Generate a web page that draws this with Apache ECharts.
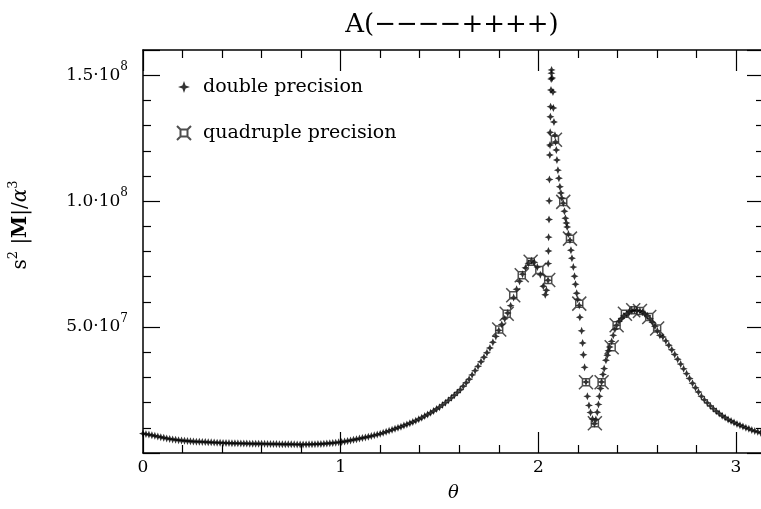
<!DOCTYPE html>
<html><head><meta charset="utf-8">
<script src="https://cdn.jsdelivr.net/npm/echarts@6/dist/echarts.min.js"></script>
<style>html,body{margin:0;padding:0;background:#fff}#c{width:761px;height:509px}</style>
</head><body><div id="c"></div>
<script>
const chartTitle = 'A(−−−−++++)';
const xAxisName = 'θ';
const xTickLabels = {0: '0', 1: '1', 2: '2', 3: '3'};
const yTickLabels = {50000000: ['5.0·10', '7'], 100000000: ['1.0·10', '8'], 150000000: ['1.5·10', '8']};
const legendNames = ['double precision', 'quadruple precision'];
const valueUnit = 1e7;
// [theta, value in units of 1e7]
const doublePrecision = [
[0.000,0.77],[0.015,0.75],[0.030,0.73],[0.045,0.705],[0.060,0.68],[0.075,0.655],[0.090,0.63],[0.105,0.605],[0.120,0.58],[0.135,0.56],[0.150,0.54],[0.165,0.525],[0.180,0.51],[0.195,0.497],[0.210,0.485],[0.225,0.475],[0.240,0.465],[0.255,0.457],[0.270,0.45],[0.285,0.445],[0.300,0.44],[0.315,0.434],[0.330,0.428],[0.345,0.422],[0.360,0.416],[0.375,0.41],[0.390,0.404],[0.405,0.399],[0.420,0.396],[0.435,0.393],[0.450,0.39],[0.465,0.387],[0.480,0.384],[0.495,0.381],[0.510,0.378],[0.525,0.375],[0.540,0.372],[0.555,0.369],[0.570,0.368],[0.585,0.366],[0.600,0.365],[0.615,0.363],[0.630,0.362],[0.645,0.36],[0.660,0.358],[0.675,0.355],[0.690,0.352],[0.705,0.35],[0.720,0.348],[0.735,0.346],[0.750,0.345],[0.765,0.343],[0.780,0.341],[0.795,0.34],[0.810,0.341],[0.825,0.342],[0.840,0.344],[0.855,0.347],[0.870,0.351],[0.885,0.355],[0.900,0.36],[0.915,0.368],[0.930,0.377],[0.945,0.387],[0.960,0.398],[0.975,0.41],[0.990,0.422],[1.005,0.437],[1.020,0.458],[1.035,0.479],[1.050,0.50],[1.065,0.524],[1.080,0.548],[1.095,0.572],[1.110,0.596],[1.125,0.62],[1.140,0.644],[1.155,0.67],[1.170,0.70],[1.185,0.73],[1.200,0.76],[1.215,0.80],[1.230,0.84],[1.245,0.88],[1.260,0.92],[1.275,0.96],[1.290,1.00],[1.305,1.045],[1.320,1.09],[1.335,1.135],[1.350,1.18],[1.365,1.23],[1.380,1.285],[1.395,1.34],[1.410,1.40],[1.425,1.465],[1.440,1.53],[1.455,1.595],[1.470,1.67],[1.485,1.745],[1.500,1.82],[1.515,1.91],[1.530,2.00],[1.545,2.09],[1.560,2.19],[1.575,2.29],[1.590,2.40],[1.605,2.51],[1.620,2.65],[1.635,2.79],[1.650,2.93],[1.665,3.10],[1.680,3.27],[1.695,3.44],[1.710,3.62],[1.725,3.80],[1.740,3.98],[1.755,4.17],[1.770,4.40],[1.785,4.63],[1.800,4.87],[1.815,5.10],[1.830,5.33],[1.845,5.56],[1.860,5.85],[1.875,6.17],[1.890,6.50],[1.905,6.82],[1.920,7.10],[1.935,7.35],[1.950,7.53],[1.965,7.63],[1.980,7.57],[1.995,7.38],[2.010,7.08],[2.025,6.62],[2.035,6.28],
[2.041,6.46],[2.049,6.86],[2.050,7.52],[2.051,8.02],[2.052,8.57],[2.054,9.27],[2.055,10.01],[2.056,10.86],[2.058,11.83],[2.059,12.23],[2.060,12.73],[2.061,13.35],[2.062,13.75],[2.064,14.41],[2.065,14.85],[2.066,15.08],[2.067,15.21],[2.070,14.89],[2.074,14.33],[2.076,13.70],[2.079,13.14],[2.084,12.62],[2.087,12.35],[2.091,12.03],[2.094,11.63],[2.099,11.23],[2.104,10.91],[2.109,10.57],[2.114,10.32],[2.119,10.12],[2.126,9.92],[2.132,9.60],[2.137,9.32],[2.142,9.13],[2.146,8.97],[2.152,8.69],[2.160,8.45],[2.165,8.05],[2.170,7.73],[2.177,7.38],[2.183,7.02],[2.188,6.70],[2.194,6.34],[2.199,6.10],[2.207,5.86],[2.210,5.39],[2.219,4.85],[2.224,4.37],[2.228,3.90],[2.234,3.40],[2.241,2.82],[2.248,2.25],[2.256,1.89],[2.264,1.61],[2.274,1.35],[2.284,1.16],[2.291,1.33],[2.298,1.62],[2.304,1.93],[2.309,2.25],[2.314,2.56],[2.320,2.82],[2.327,3.12],[2.333,3.35],[2.342,3.68],[2.349,3.88],[2.355,4.06],[2.361,4.21],[2.371,4.43],[2.379,4.67],[2.387,4.91],[2.396,5.07],[2.408,5.23],[2.421,5.34],[2.433,5.45],[2.447,5.53],[2.461,5.61],[2.473,5.65],[2.486,5.67],[2.499,5.66],[2.514,5.64],[2.527,5.59],[2.539,5.53],[2.552,5.45],[2.565,5.33],[2.577,5.19],[2.590,5.03],[2.602,4.85],[2.615,4.67],
[2.630,4.61],[2.645,4.45],[2.660,4.28],[2.675,4.10],[2.690,3.91],[2.705,3.72],[2.720,3.53],[2.735,3.34],[2.750,3.15],[2.765,2.96],[2.780,2.77],[2.795,2.59],[2.810,2.42],[2.825,2.25],[2.840,2.11],[2.855,1.99],[2.870,1.87],[2.885,1.76],[2.900,1.66],[2.915,1.57],[2.930,1.48],[2.945,1.41],[2.960,1.33],[2.975,1.27],[2.990,1.21],[3.005,1.15],[3.020,1.10],[3.035,1.05],[3.050,1.00],[3.065,0.96],[3.080,0.91],[3.095,0.87],[3.110,0.84],[3.125,0.80],[3.140,0.77]
];
const quadruplePrecision = [
[1.802,4.90],[1.840,5.53],[1.873,6.26],[1.916,7.06],[1.961,7.59],[2.005,7.27],[2.050,6.87],[2.084,12.44],[2.126,9.97],[2.160,8.51],[2.207,5.93],[2.241,2.81],[2.286,1.18],[2.320,2.81],[2.371,4.20],[2.396,5.07],[2.438,5.53],[2.480,5.67],[2.514,5.64],[2.561,5.40],[2.601,4.94]
];

const FONT = 'DejaVu Serif';
const starPath = 'path://M0,-6 L1.8,-1.8 L6,0 L1.8,1.8 L0,6 L-1.8,1.8 L-6,0 L-1.8,-1.8 Z';
const starLegendPath = 'path://M-10,-10 M10,10 M0,-6 L1.6,-1.6 L6,0 L1.6,1.6 L0,6 L-1.6,1.6 L-6,0 L-1.6,-1.6 Z';
const quadPath = 'path://M-3.5,-3.5 L3.5,-3.5 L3.5,3.5 L-3.5,3.5 Z M-3.5,-3.5 L-7,-7 M3.5,-3.5 L7,-7 M3.5,3.5 L7,7 M-3.5,3.5 L-7,7';
const quadLegendPath = 'path://M-10,-10 M10,10 M-3.5,-3.5 L3.5,-3.5 L3.5,3.5 L-3.5,3.5 Z M-3.5,-3.5 L-7,-7 M3.5,-3.5 L7,-7 M3.5,3.5 L7,7 M-3.5,3.5 L-7,7';

function xAxisDef(pos, showLabel) {
  return {
    type: 'value', position: pos, min: 0, max: Math.PI, interval: 1,
    axisLine: {show: true, onZero: false, lineStyle: {color: '#000', width: 1.5}},
    axisTick: {show: true, inside: true, length: 21, lineStyle: {color: '#000', width: 1.2}},
    minorTick: {show: true, splitNumber: 5, length: 8, lineStyle: {color: '#000', width: 1.2}},
    splitLine: {show: false},
    axisLabel: {show: showLabel, margin: 6, color: '#000', fontFamily: FONT, fontSize: 17,
      formatter: v => xTickLabels[v] !== undefined ? xTickLabels[v] : ''},
    name: showLabel ? xAxisName : '', nameLocation: 'middle', nameGap: 31,
    nameTextStyle: {fontFamily: FONT, fontSize: 18, fontStyle: 'italic', color: '#000'}
  };
}
function yAxisDef(pos, showLabel) {
  return {
    type: 'value', position: pos, min: 0, max: 1.6e8, interval: 5e7,
    axisLine: {show: true, onZero: false, lineStyle: {color: '#000', width: 1.5}},
    axisTick: {show: true, inside: true, length: 17, lineStyle: {color: '#000', width: 1.2}},
    minorTick: {show: true, splitNumber: 5, length: 8, lineStyle: {color: '#000', width: 1.2}},
    splitLine: {show: false},
    axisLabel: {show: showLabel, margin: 15, color: '#000',
      formatter: v => yTickLabels[v] ? '{a|' + yTickLabels[v][0] + '}{b|' + yTickLabels[v][1] + '}' : '',
      rich: {
        a: {fontFamily: FONT, fontSize: 17, lineHeight: 28, color: '#000'},
        b: {fontFamily: FONT, fontSize: 12, lineHeight: 12, verticalAlign: 'top', color: '#000'}
      }}
  };
}

const chart = echarts.init(document.getElementById('c'), null, {renderer: 'canvas'});
chart.setOption({
  animation: false,
  backgroundColor: '#fff',
  grid: {left: 143, top: 50, width: 621, height: 403, containLabel: false, outerBoundsMode: 'none'},
  xAxis: [xAxisDef('bottom', true), xAxisDef('top', false)],
  yAxis: [yAxisDef('left', true), yAxisDef('right', false)],
  legend: {
    left: 168, top: 71, orient: 'vertical', itemGap: 24, itemWidth: 20, itemHeight: 20,
    selectedMode: false,
    textStyle: {fontFamily: FONT, fontSize: 19, color: '#000', lineHeight: 22, padding: [0, 0, 0, 4]},
    data: [{name: legendNames[0], icon: starLegendPath}, {name: legendNames[1], icon: quadLegendPath}]
  },
  graphic: [
    {type: 'text', x: 452, y: 25, style: {text: chartTitle, font: '26px "' + FONT + '"', fill: '#000', align: 'center', verticalAlign: 'middle'}},
    {type: 'text', x: 21, y: 225, rotation: Math.PI / 2, style: {
      text: '{a|s}{b|2}{a| |}{m|M}{a||/}{i|α}{b|3}', align: 'center', verticalAlign: 'middle',
      rich: {
        a: {fontFamily: FONT, fontSize: 20, lineHeight: 28, fill: '#000'},
        m: {fontFamily: FONT, fontSize: 20, fontWeight: 'bold', lineHeight: 28, fill: '#000'},
        i: {fontFamily: FONT, fontSize: 20, fontStyle: 'italic', lineHeight: 28, fill: '#000'},
        b: {fontFamily: FONT, fontSize: 13, lineHeight: 13, verticalAlign: 'top', fill: '#000'}
      }}}
  ],
  series: [
    {
      name: legendNames[0], type: 'scatter', xAxisIndex: 0, yAxisIndex: 0,
      symbol: starPath, symbolSize: 8,
      itemStyle: {color: '#000'},
      data: doublePrecision.map(p => [p[0], p[1] * valueUnit])
    },
    {
      name: legendNames[1], type: 'scatter', xAxisIndex: 0, yAxisIndex: 0,
      symbol: quadPath, symbolSize: 14,
      itemStyle: {color: 'rgba(0,0,0,0)', borderColor: '#222', borderWidth: 1.5},
      data: quadruplePrecision.map(p => [p[0], p[1] * valueUnit])
    }
  ]
});
</script></body></html>
